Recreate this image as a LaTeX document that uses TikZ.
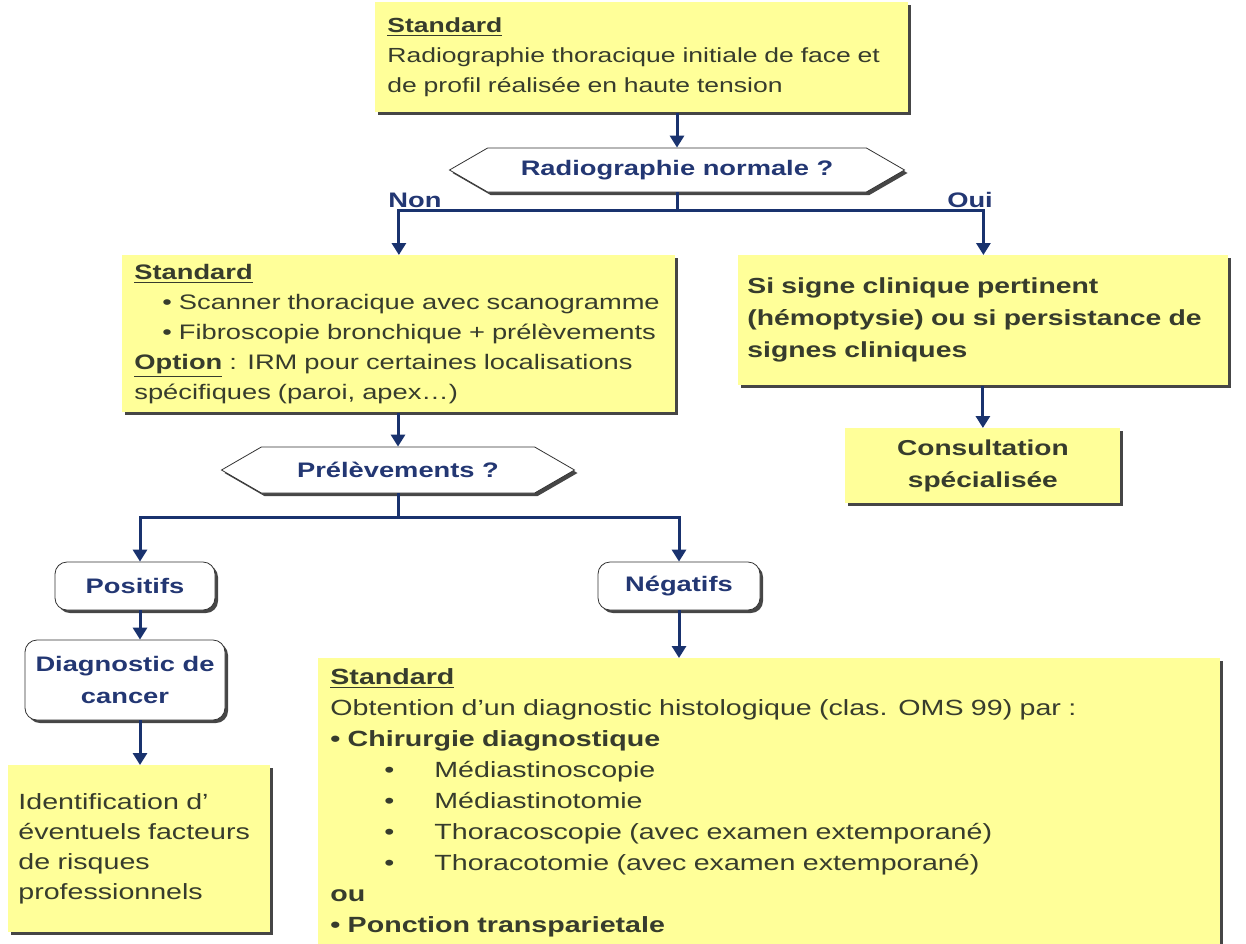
\documentclass[tikz,border=0pt]{standalone}
\usepackage{fontspec}
\setmainfont{Liberation Sans}[FakeStretch=1.3]
\usetikzlibrary{shapes.symbols, shadows, arrows.meta}
\definecolor{jaune}{RGB}{255,255,153}
\definecolor{texte}{RGB}{55,60,45}
\definecolor{bleu}{RGB}{35,55,115}
\definecolor{marine}{RGB}{25,50,110}
\definecolor{ombre}{RGB}{70,70,70}
\newcommand{\sousitem}[1]{\makebox[52pt][l]{\hspace*{27pt}\textbullet}#1}

\begin{document}
\begin{tikzpicture}[
        x=0.5pt, y=-0.5pt, % coordonnees en pixels
        font=\fontsize{10.8}{15}\selectfont,
        ombrage/.style={drop shadow={shadow xshift=1.5pt, shadow yshift=-1.5pt, fill=ombre, opacity=1}},
        cadre/.style={ombrage, fill=jaune, text=texte, align=left, anchor=north west, inner xsep=6pt, inner ysep=2pt}, % boites jaunes
        question/.style={ombrage, signal, signal to=west and east, signal pointer angle=60, draw=black!80, fill=white,
            text=bleu, font=\fontsize{10.5}{15}\selectfont\bfseries, inner sep=0pt}, % hexagones
        reponse/.style={ombrage, rounded corners=6pt, draw=black!80, fill=white, text=bleu, align=center,
            font=\fontsize{10.5}{16}\selectfont\bfseries, inner sep=0pt},
        fleche/.style={draw=marine, line width=1.5pt, -{Triangle[length=6pt, width=7pt]}},
        trait/.style={draw=marine, line width=1.5pt},
        choix/.style={text=bleu, font=\fontsize{10.5}{15}\selectfont\bfseries},
    ]
    \useasboundingbox (0,0) rectangle (1246,943);

    \node[cadre, font=\fontsize{10.2}{15}\selectfont, text width=254.5pt, minimum height=55pt] (radio) at (375,2)
        {\underline{\textbf{Standard}}\\Radiographie thoracique initiale de face et\\de profil réalisée en haute tension};
    \node[question, minimum width=227.5pt, minimum height=22pt] (normale) at (677,170) {Radiographie normale ?};

    \node[cadre, font=\fontsize{10.5}{15}\selectfont, text width=264.5pt, minimum height=78.5pt] (scanner) at (122,255)
        {\underline{\textbf{Standard}}\\
         \hspace*{14pt}\textbullet\ Scanner thoracique avec scanogramme\\
         \hspace*{14pt}\textbullet\ Fibroscopie bronchique + prélèvements\\
         \underline{\textbf{Option}} : IRM pour certaines localisations\\
         spécifiques (paroi, apex\ldots)};
    \node[cadre, font=\fontsize{10.9}{16}\selectfont\bfseries, inner xsep=4.5pt, text width=236pt, minimum height=65pt] (signe) at (738,255)
        {Si signe clinique pertinent\\(hémoptysie) ou si persistance de\\signes cliniques};
    \node[cadre, font=\fontsize{10.8}{16}\selectfont\bfseries, align=center, text width=125.5pt, minimum height=37.5pt] (consult) at (845,428)
        {Consultation\\spécialisée};

    \node[question, minimum width=176.5pt, minimum height=23pt] (prelev) at (398,470) {Prélèvements ?};
    \node[reponse, minimum width=80pt, minimum height=24pt] (positifs) at (135,586) {Positifs};
    \node[reponse, minimum width=81pt, minimum height=24pt] (negatifs) at (679,586) {Négatifs};
    \node[reponse, minimum width=100pt, minimum height=40pt] (cancer) at (125,680) {Diagnostic de\\cancer};

    \node[cadre, font=\fontsize{11}{15}\selectfont, inner xsep=5pt, text width=121pt, minimum height=83.5pt] (facteurs) at (8,765)
        {Identification d’\\éventuels facteurs\\de risques\\professionnels};
    \node[cadre, font=\fontsize{11}{15.5}\selectfont, text width=439pt, minimum height=144pt] (chirurgie) at (318,658)
        {\underline{\textbf{Standard}}\\
         Obtention d’un diagnostic histologique (clas. OMS 99) par :\\
         \textbf{\textbullet{} Chirurgie diagnostique}\\
         \sousitem{Médiastinoscopie}\\
         \sousitem{Médiastinotomie}\\
         \sousitem{Thoracoscopie (avec examen extemporané)}\\
         \sousitem{Thoracotomie (avec examen extemporané)}\\
         \textbf{ou}\\
         \textbf{\textbullet{} Ponction transparietale}};

    \node[choix] (non) at (415,200) {Non};
    \node[choix] (oui) at (970,200) {Oui};

    % connecteurs
    \coordinate (j1) at (677,210);
    \coordinate (j2) at (398,517);
    \coordinate (g) at (140,517);
    \draw[fleche] (normale.north |- radio.south) -- (normale.north);
    \draw[trait] (normale.south) -- (j1);
    \draw[fleche] (j1) -| (scanner.north);
    \draw[fleche] (j1) -| (signe.north);
    \draw[fleche] (consult.north |- signe.south) -- (consult.north);
    \draw[fleche] (prelev.north |- scanner.south) -- (prelev.north);
    \draw[trait] (prelev.south) -- (j2);
    \draw[fleche] (j2) -| (negatifs.north);
    \draw[fleche] (j2) -- (g) -- (g |- positifs.north);
    \draw[fleche] (g |- positifs.south) -- (g |- cancer.north);
    \draw[fleche] (g |- cancer.south) -- (g |- facteurs.north);
    \draw[fleche] (negatifs.south) -- (negatifs.south |- chirurgie.north);
\end{tikzpicture}
\end{document}
